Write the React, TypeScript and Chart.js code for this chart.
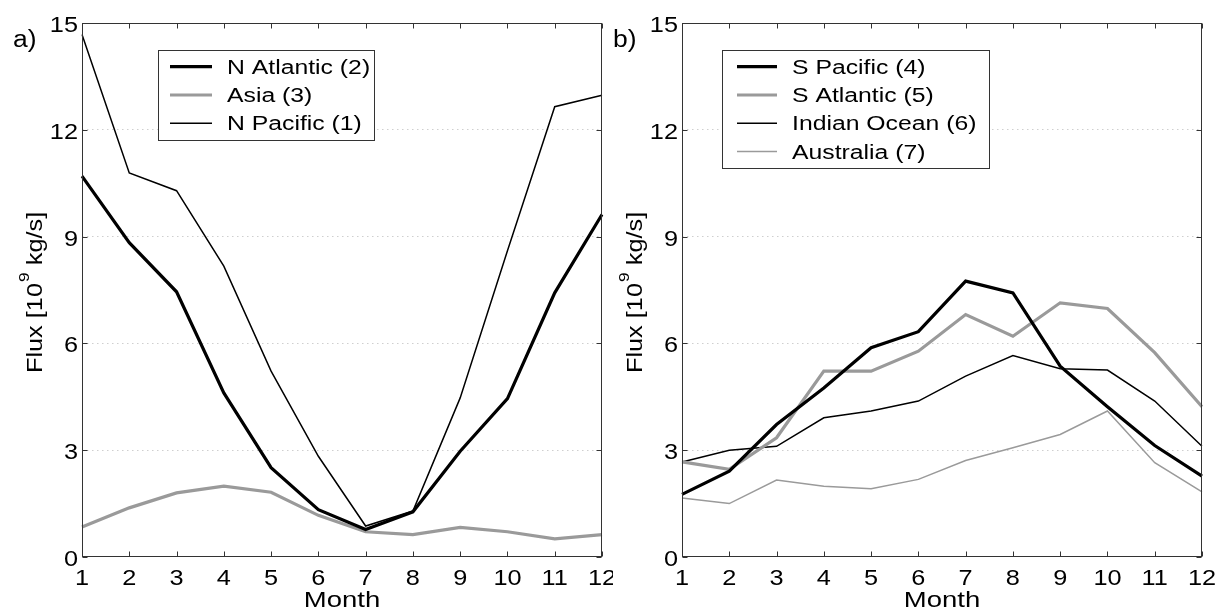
import React, { useEffect, useRef } from 'react';
import { Chart, registerables } from 'chart.js';

Chart.register(...registerables);

// ---------- data ----------
const months = ['1', '2', '3', '4', '5', '6', '7', '8', '9', '10', '11', '12'];
const yTicks = [0, 3, 6, 9, 12, 15];

const nAtlantic = [10.7, 8.83, 7.45, 4.61, 2.51, 1.33, 0.77, 1.27, 2.97, 4.45, 7.42, 9.62];
const asia = [0.84, 1.38, 1.8, 1.99, 1.82, 1.17, 0.71, 0.63, 0.83, 0.71, 0.51, 0.63];
const nPacific = [14.68, 10.79, 10.29, 8.17, 5.22, 2.83, 0.87, 1.29, 4.47, 8.6, 12.65, 12.97];

const sPacific = [1.76, 2.41, 3.72, 4.75, 5.88, 6.33, 7.75, 7.42, 5.36, 4.22, 3.13, 2.27];
const sAtlantic = [2.67, 2.46, 3.35, 5.22, 5.22, 5.78, 6.81, 6.2, 7.14, 6.98, 5.74, 4.22];
const indianOcean = [2.67, 3.0, 3.11, 3.91, 4.1, 4.38, 5.08, 5.66, 5.29, 5.25, 4.38, 3.11];
const australia = [1.66, 1.5, 2.16, 1.99, 1.92, 2.18, 2.71, 3.07, 3.44, 4.1, 2.65, 1.83];

const xTitle = 'Month';
const yTitleParts = ['Flux [10', '9', ' kg/s]'];

// ---------- styling ----------
const FONT = "'Liberation Sans', Arial, Helvetica, sans-serif";
const BLACK = '#000000';
const GRAY = '#9a9a9a';
const FRAME = '#333333';

type Series = { label: string; data: number[]; color: string; width: number };

type PanelCfg = {
  tag: string;
  series: Series[];
  yWidth: number;
  padRight: number;
  legend: { left: number; width: number; height: number; lx0: number; lx1: number; tx: number };
};

const panelA: PanelCfg = {
  tag: 'a)',
  series: [
    { label: 'N Atlantic (2)', data: nAtlantic, color: BLACK, width: 3.2 },
    { label: 'Asia (3)', data: asia, color: GRAY, width: 3.2 },
    { label: 'N Pacific (1)', data: nPacific, color: BLACK, width: 1.5 },
  ],
  yWidth: 82,
  padRight: 11,
  legend: { left: 76, width: 216, height: 90, lx0: 88, lx1: 130, tx: 145 },
};

const panelB: PanelCfg = {
  tag: 'b)',
  series: [
    { label: 'S Pacific (4)', data: sPacific, color: BLACK, width: 3.2 },
    { label: 'S Atlantic (5)', data: sAtlantic, color: GRAY, width: 3.2 },
    { label: 'Indian Ocean (6)', data: indianOcean, color: BLACK, width: 1.5 },
    { label: 'Australia (7)', data: australia, color: GRAY, width: 1.5 },
  ],
  yWidth: 69,
  padRight: 24,
  legend: { left: 40, width: 267, height: 118, lx0: 55, lx1: 95, tx: 110 },
};

function drawText(
  ctx: CanvasRenderingContext2D,
  text: string,
  x: number,
  y: number,
  size: number,
  align: 'left' | 'center' | 'right',
  sx: number
) {
  ctx.save();
  ctx.font = `${size}px ${FONT}`;
  ctx.textAlign = 'left';
  ctx.textBaseline = 'alphabetic';
  ctx.fillStyle = '#000';
  const w = ctx.measureText(text).width * sx;
  let x0 = x;
  if (align === 'center') x0 = x - w / 2;
  else if (align === 'right') x0 = x - w;
  ctx.translate(x0, y);
  ctx.scale(sx, 1);
  ctx.fillText(text, 0, 0);
  ctx.restore();
}

function makePlugin(cfg: PanelCfg) {
  return {
    id: 'matlabDecor',
    afterDraw(chart: any) {
      const ctx: CanvasRenderingContext2D = chart.ctx;
      const ca = chart.chartArea;
      const xs = chart.scales.x;
      const ys = chart.scales.y;
      const L = Math.round(ca.left) + 0.5;
      const R = Math.round(ca.right) - 0.5;
      const T = Math.round(ca.top) + 0.5;
      const B = Math.round(ca.bottom) - 0.5;

      ctx.save();
      // frame
      ctx.strokeStyle = FRAME;
      ctx.lineWidth = 1;
      ctx.setLineDash([]);
      ctx.strokeRect(L, T, R - L, B - T);
      // ticks (inward, all four sides)
      const tl = 5;
      ctx.beginPath();
      months.forEach((_, i) => {
        const px = Math.round(xs.getPixelForValue(i)) + 0.5;
        ctx.moveTo(px, B);
        ctx.lineTo(px, B - tl);
        ctx.moveTo(px, T);
        ctx.lineTo(px, T + tl);
      });
      yTicks.forEach((v) => {
        const py = Math.round(ys.getPixelForValue(v)) + 0.5;
        ctx.moveTo(L, py);
        ctx.lineTo(L + tl, py);
        ctx.moveTo(R, py);
        ctx.lineTo(R - tl, py);
      });
      ctx.stroke();
      ctx.restore();

      // tick labels
      months.forEach((m, i) => {
        const px = xs.getPixelForValue(i);
        drawText(ctx, m, px, ca.bottom + 28, 22, 'center', 1.15);
      });
      yTicks.forEach((v) => {
        const py = ys.getPixelForValue(v);
        drawText(ctx, String(v), ca.left - 4, py + 9, 22, 'right', 1.15);
      });

      // x title
      drawText(ctx, xTitle, (ca.left + ca.right) / 2, ca.bottom + 50, 22, 'center', 1.25);

      // y title (rotated, with superscript)
      ctx.save();
      const sx = 1.15;
      const mainSize = 22;
      const supSize = 15;
      ctx.font = `${mainSize}px ${FONT}`;
      const w0 = ctx.measureText(yTitleParts[0]).width;
      const w2 = ctx.measureText(yTitleParts[2]).width;
      ctx.font = `${supSize}px ${FONT}`;
      const w1 = ctx.measureText(yTitleParts[1]).width;
      const total = (w0 + w1 + w2) * sx;
      ctx.translate(ca.left - 40, (ca.top + ca.bottom) / 2 + 3);
      ctx.rotate(-Math.PI / 2);
      ctx.scale(sx, 1);
      ctx.fillStyle = '#000';
      ctx.textAlign = 'left';
      ctx.textBaseline = 'alphabetic';
      let cx = -total / 2 / sx;
      ctx.font = `${mainSize}px ${FONT}`;
      ctx.fillText(yTitleParts[0], cx, 0);
      cx += w0;
      ctx.font = `${supSize}px ${FONT}`;
      ctx.fillText(yTitleParts[1], cx + 1, -13);
      cx += w1 + 1;
      ctx.font = `${mainSize}px ${FONT}`;
      ctx.fillText(yTitleParts[2], cx, 0);
      ctx.restore();

      // panel tag
      drawText(ctx, cfg.tag, ca.left - 69, 47, 23, 'left', 1.15);

      // legend
      const lg = cfg.legend;
      const bx = Math.round(ca.left + lg.left) + 0.5;
      const by = 50.5;
      ctx.save();
      ctx.fillStyle = '#ffffff';
      ctx.fillRect(bx, by, lg.width, lg.height);
      ctx.strokeStyle = FRAME;
      ctx.lineWidth = 1;
      ctx.strokeRect(bx, by, lg.width, lg.height);
      cfg.series.forEach((s, i) => {
        const ry = 66.7 + i * 28.3;
        ctx.beginPath();
        ctx.strokeStyle = s.color;
        ctx.lineWidth = s.width;
        ctx.moveTo(ca.left + lg.lx0, ry);
        ctx.lineTo(ca.left + lg.lx1, ry);
        ctx.stroke();
        drawText(ctx, s.label, ca.left + lg.tx, ry + 7, 19.5, 'left', 1.27);
      });
      ctx.restore();
    },
  };
}

function Panel({ cfg, left }: { cfg: PanelCfg; left: number }) {
  const ref = useRef<HTMLCanvasElement | null>(null);
  useEffect(() => {
    if (!ref.current) return;
    const chart = new Chart(ref.current, {
      type: 'line',
      data: {
        labels: months,
        datasets: cfg.series.map((s) => ({
          label: s.label,
          data: s.data,
          borderColor: s.color,
          backgroundColor: s.color,
          borderWidth: s.width,
          pointRadius: 0,
          tension: 0,
          fill: false,
        })),
      },
      options: {
        responsive: false,
        animation: false,
        devicePixelRatio: 1,
        events: [],
        layout: { padding: { left: 0, right: cfg.padRight, top: 23, bottom: 0 } },
        plugins: {
          legend: { display: false },
          tooltip: { enabled: false },
          title: { display: false },
        },
        scales: {
          x: {
            type: 'category',
            offset: false,
            ticks: { display: false },
            grid: { display: false },
            border: { display: false },
            afterFit: (s: any) => {
              s.height = 53;
            },
          },
          y: {
            min: 0,
            max: 15,
            ticks: { display: false, stepSize: 3 },
            afterBuildTicks: (s: any) => {
              s.ticks = yTicks.map((v) => ({ value: v }));
            },
            grid: {
              drawTicks: false,
              lineWidth: 1,
              color: (c: any) =>
                c.tick && c.tick.value > 0 && c.tick.value < 15 ? '#cfcfcf' : 'rgba(0,0,0,0)',
            },
            border: { display: false, dash: [1.5, 3.5] },
            afterFit: (s: any) => {
              s.width = cfg.yWidth;
            },
          },
        },
      },
      plugins: [makePlugin(cfg)],
    } as any);
    return () => chart.destroy();
  }, [cfg]);
  return (
    <canvas
      ref={ref}
      width={613}
      height={610}
      style={{ position: 'absolute', left, top: 0, width: 613, height: 610 }}
    />
  );
}

export default function App() {
  return (
    <div
      style={{
        position: 'fixed',
        left: 0,
        top: 0,
        width: 1226,
        height: 610,
        background: '#ffffff',
        overflow: 'hidden',
      }}
    >
      <Panel cfg={panelA} left={0} />
      <Panel cfg={panelB} left={613} />
    </div>
  );
}
